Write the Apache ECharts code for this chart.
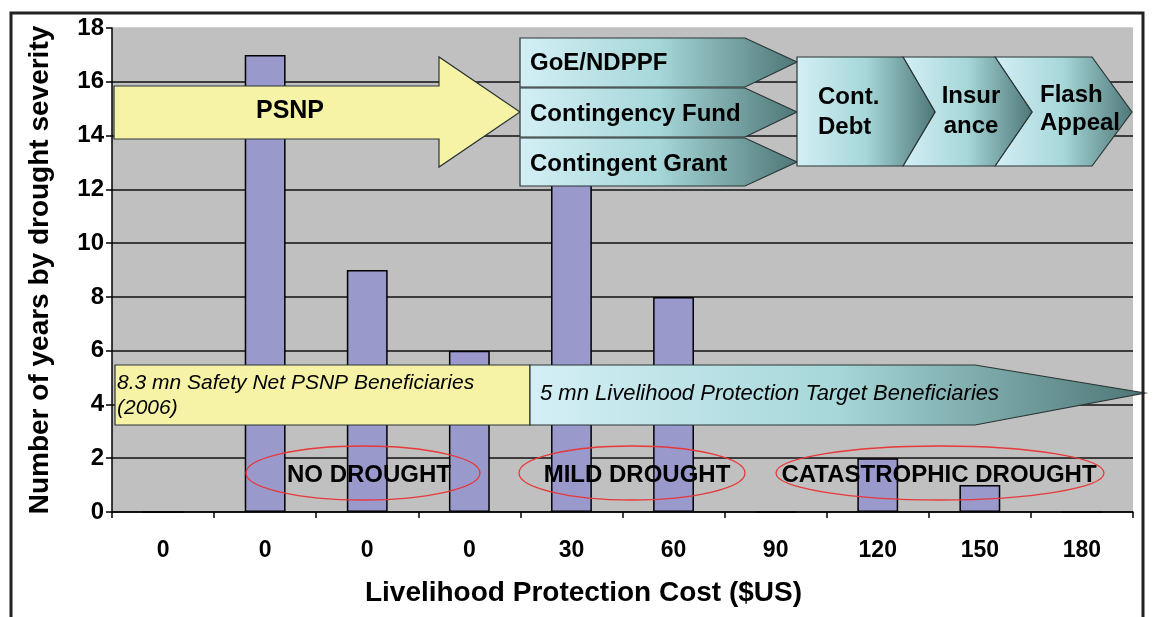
<!DOCTYPE html>
<html>
<head>
<meta charset="utf-8">
<script src="https://cdn.jsdelivr.net/npm/echarts@6/dist/echarts.min.js"></script>
<style>
html, body { margin: 0; background: #fff; }
#chart { width: 1155px; height: 617px; }
</style>
</head>
<body>
<div id="chart"></div>
<script>
// x categories: livelihood protection cost per beneficiary
const costLabels = ['0', '0', '0', '0', '30', '60', '90', '120', '150', '180'];
// number of years in each cost class
const yearCounts = [0, 17, 9, 6, 13, 8, 0, 2, 1, 0];
// y axis range
const yMin = 0, yMax = 18, yStep = 2;

const FONT = "'Liberation Sans', Arial, sans-serif";

const teal = () => new echarts.graphic.LinearGradient(0, 0, 1, 0, [
    { offset: 0, color: '#d4eff5' },
    { offset: 0.5, color: '#a6d7d9' },
    { offset: 1, color: '#4e7676' }
]);
const yellow = '#f6f3a6';
const edge = '#2a3535';

// grid lines: black, except the top one which is hidden in the original
const splitColors = [];
for (let v = yMin; v <= yMax; v += yStep) splitColors.push(v === yMax ? '#c0c0c0' : '#111');

const poly = (pts, fill) => ({
    type: 'polygon', z: 100,
    shape: { points: pts },
    style: { fill: fill, stroke: edge, lineWidth: 1.2 }
});
const txt = (x, y, text, opts) => ({
    type: 'text', z: 110, x: x, y: y,
    style: Object.assign({
        text: text, fill: '#000', font: 'bold 23px ' + FONT,
        textAlign: 'left', textVerticalAlign: 'middle'
    }, opts || {})
});
const oval = (cx, cy, rx, ry) => ({
    type: 'ellipse', z: 105,
    shape: { cx: cx, cy: cy, rx: rx, ry: ry },
    style: { fill: 'none', stroke: '#e8383a', lineWidth: 1.3 }
});

const overlays = [
    // outer frame
    { type: 'rect', z: 120, shape: { x: 11, y: 13, width: 1132, height: 700 },
      style: { fill: 'none', stroke: '#222', lineWidth: 3 } },

    // PSNP arrow
    poly([[114, 86], [439, 86], [439, 57], [520, 112], [439, 167], [439, 139], [114, 139]], yellow),
    txt(290, 111, 'PSNP', { textAlign: 'center', font: 'bold 25px ' + FONT }),

    // funding sources
    poly([[520, 38], [745, 38], [797, 62], [745, 87], [520, 87]], teal()),
    poly([[520, 88], [745, 88], [797, 112], [745, 137], [520, 137]], teal()),
    poly([[520, 138], [745, 138], [797, 162], [745, 186], [520, 186]], teal()),
    txt(530, 63, 'GoE/NDPPF', { font: 'bold 24px ' + FONT }),
    txt(530, 114, 'Contingency Fund', { font: 'bold 24px ' + FONT }),
    txt(530, 164, 'Contingent Grant', { font: 'bold 24px ' + FONT }),

    // chevrons
    poly([[995, 57], [1092, 57], [1132, 112], [1092, 166], [995, 166], [1032, 112]], teal()),
    poly([[903, 57], [995, 57], [1032, 112], [995, 166], [903, 166], [935, 112]], teal()),
    poly([[797, 57], [903, 57], [935, 112], [903, 166], [797, 166]], teal()),
    txt(818, 112, 'Cont.\nDebt', { lineHeight: 30, font: 'bold 24px ' + FONT }),
    txt(971, 111, 'Insur\nance', { textAlign: 'center', lineHeight: 30, font: 'bold 24px ' + FONT }),
    txt(1040, 109, 'Flash\nAppeal', { lineHeight: 28, font: 'bold 24px ' + FONT }),

    // beneficiaries band
    { type: 'rect', z: 100, shape: { x: 115, y: 365, width: 415, height: 60 },
      style: { fill: yellow, stroke: edge, lineWidth: 1.2 } },
    poly([[530, 365], [975, 365], [1145, 393], [975, 425], [530, 425]], teal()),
    txt(117, 396, '8.3 mn Safety Net PSNP Beneficiaries\n(2006)',
        { font: 'italic 21px ' + FONT, lineHeight: 25 }),
    txt(540, 394, '5 mn Livelihood Protection Target Beneficiaries',
        { font: 'italic 22px ' + FONT }),

    // drought severity labels
    oval(363, 473, 117, 27),
    oval(632, 473, 113, 27),
    oval(940, 473, 164, 27),
    txt(369, 475, 'NO DROUGHT', { textAlign: 'center', font: 'bold 24px ' + FONT }),
    txt(637, 475, 'MILD DROUGHT', { textAlign: 'center', font: 'bold 24px ' + FONT }),
    txt(939, 475, 'CATASTROPHIC DROUGHT', { textAlign: 'center', font: 'bold 24px ' + FONT })
];

const chart = echarts.init(document.getElementById('chart'));
chart.setOption({
    animation: false,
    backgroundColor: '#fff',
    grid: {
        left: 112, top: 28, right: 22, bottom: 105,
        show: true, backgroundColor: '#c0c0c0', borderWidth: 0
    },
    xAxis: {
        type: 'category',
        data: costLabels,
        axisLine: { lineStyle: { color: '#000', width: 1.5 } },
        axisTick: { show: true, length: 6, lineStyle: { color: '#000', width: 1.5 } },
        axisLabel: { color: '#000', fontFamily: FONT, fontWeight: 'bold', fontSize: 23, margin: 27 },
        name: 'Livelihood Protection Cost ($US)',
        nameLocation: 'middle',
        nameGap: 67,
        nameTextStyle: {
            color: '#000', fontFamily: FONT, fontWeight: 'bold', fontSize: 28,
            padding: [0, 78, 0, 0]
        }
    },
    yAxis: {
        type: 'value',
        min: yMin, max: yMax, interval: yStep,
        axisLine: { show: true, lineStyle: { color: '#000', width: 1.5 } },
        axisTick: { show: true, length: 6, lineStyle: { color: '#000', width: 1.5 } },
        axisLabel: { color: '#000', fontFamily: FONT, fontWeight: 'bold', fontSize: 24, margin: 8 },
        splitLine: { show: true, lineStyle: { color: splitColors, width: 1.5 } },
        name: 'Number of years by drought severity',
        nameLocation: 'middle',
        nameGap: 58,
        nameTextStyle: { color: '#000', fontFamily: FONT, fontWeight: 'bold', fontSize: 28 }
    },
    series: [{
        type: 'bar',
        data: yearCounts,
        barWidth: '40%',
        itemStyle: { color: '#9999cc', borderColor: '#000', borderWidth: 1.5 }
    }],
    graphic: { elements: overlays }
});
</script>
</body>
</html>
